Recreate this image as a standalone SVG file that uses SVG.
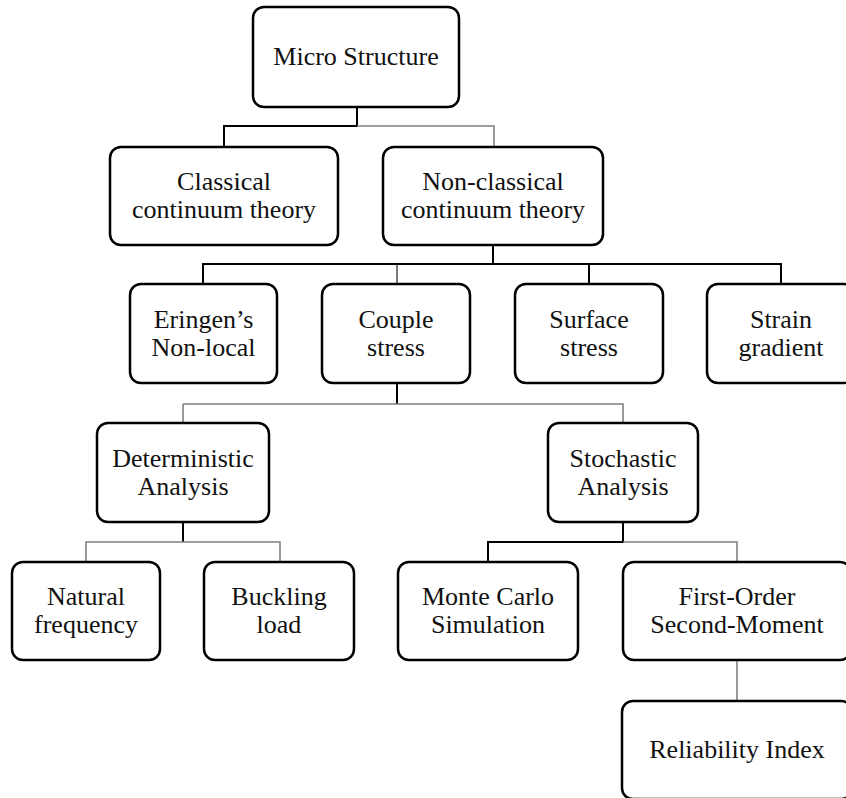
<svg xmlns="http://www.w3.org/2000/svg" width="846" height="798" viewBox="0 0 846 798">
<style>
.box{fill:#fff;stroke:#000;stroke-width:2.5}
.t{font-family:"Liberation Serif","Times New Roman",serif;font-size:26px;fill:#111;text-anchor:middle}
.d{stroke:#000;stroke-width:2;fill:none}
.g{stroke:#808080;stroke-width:1.6;fill:none}
.n{stroke:#222;stroke-width:1.2;fill:none}
</style>
<rect width="846" height="798" fill="#fff"/>
<g id="connectors">
<path class="d" d="M357 107V126H224V147"/>
<path class="g" d="M357 126H494V147"/>
<path class="d" d="M493 245V265M203 285V264H781V285M589 264V285"/>
<path class="n" d="M397 264V285"/>
<path class="d" d="M397 383V404"/>
<path class="g" d="M183 404H623V423M183 404V423"/>
<path class="d" d="M183 522V542"/>
<path class="g" d="M86 562V542H280V562"/>
<path class="d" d="M623 522V542H488V562"/>
<path class="g" d="M623 542H737V562"/>
<path class="g" d="M737 660V701"/>
</g>
<g id="micro"><rect class="box" x="253" y="7" width="206" height="100" rx="11"/><text class="t" x="356" y="65">Micro Structure</text></g>
<g id="classical"><rect class="box" x="110" y="147" width="228" height="98" rx="11"/><text class="t" x="224" y="190">Classical</text><text class="t" x="224" y="218">continuum theory</text></g>
<g id="nonclassical"><rect class="box" x="383" y="147" width="220" height="98" rx="11"/><text class="t" x="493" y="190">Non-classical</text><text class="t" x="493" y="218">continuum theory</text></g>
<g id="eringen"><rect class="box" x="130" y="284" width="147" height="99" rx="11"/><text class="t" x="203.5" y="328">Eringen’s</text><text class="t" x="203.5" y="356">Non-local</text></g>
<g id="couple"><rect class="box" x="322" y="284" width="148" height="99" rx="11"/><text class="t" x="396" y="328">Couple</text><text class="t" x="396" y="356">stress</text></g>
<g id="surface"><rect class="box" x="515" y="284" width="148" height="99" rx="11"/><text class="t" x="589" y="328">Surface</text><text class="t" x="589" y="356">stress</text></g>
<g id="strain"><rect class="box" x="707" y="284" width="148" height="99" rx="11"/><text class="t" x="781" y="328">Strain</text><text class="t" x="781" y="356">gradient</text></g>
<g id="deterministic"><rect class="box" x="97" y="423" width="172" height="99" rx="11"/><text class="t" x="183" y="467">Deterministic</text><text class="t" x="183" y="495">Analysis</text></g>
<g id="stochastic"><rect class="box" x="548" y="423" width="150" height="99" rx="11"/><text class="t" x="623" y="467">Stochastic</text><text class="t" x="623" y="495">Analysis</text></g>
<g id="natural"><rect class="box" x="12" y="562" width="148" height="98" rx="11"/><text class="t" x="86" y="605">Natural</text><text class="t" x="86" y="633">frequency</text></g>
<g id="buckling"><rect class="box" x="204" y="562" width="150" height="98" rx="11"/><text class="t" x="279" y="605">Buckling</text><text class="t" x="279" y="633">load</text></g>
<g id="montecarlo"><rect class="box" x="398" y="562" width="180" height="98" rx="11"/><text class="t" x="488" y="605">Monte Carlo</text><text class="t" x="488" y="633">Simulation</text></g>
<g id="fosm"><rect class="box" x="623" y="562" width="228" height="98" rx="11"/><text class="t" x="737" y="605">First-Order</text><text class="t" x="737" y="633">Second-Moment</text></g>
<g id="reliability"><rect class="box" x="622" y="701" width="230" height="98" rx="11"/><text class="t" x="737" y="758">Reliability Index</text></g>
</svg>
